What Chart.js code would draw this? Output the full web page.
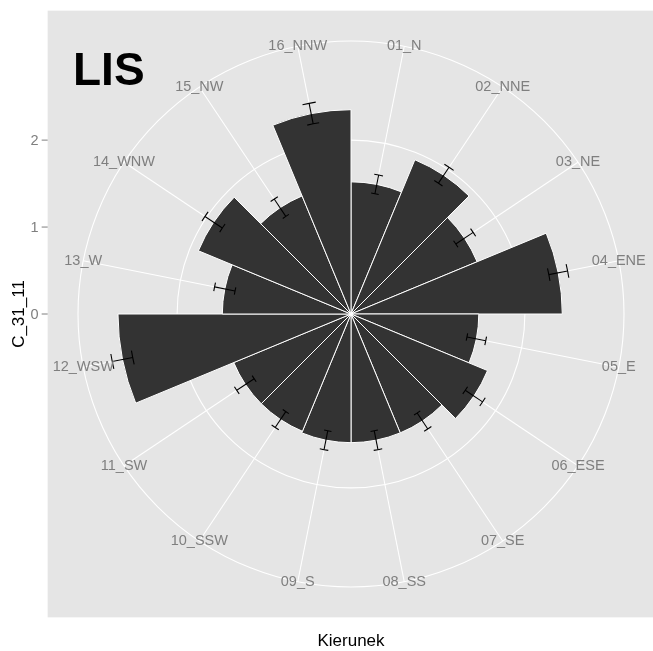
<!DOCTYPE html>
<html>
<head>
<meta charset="utf-8">
<script src="https://cdn.jsdelivr.net/npm/chart.js@4.4.1/dist/chart.umd.min.js"></script>
<style>
html, body { margin: 0; padding: 0; background: #fff; }
canvas { display: block; }
</style>
</head>
<body>
<canvas id="rose" width="653" height="651"></canvas>
<script>
// directions (categories), mean values and error half-widths
const kierunki = ['01_N', '02_NNE', '03_NE', '04_ENE', '05_E', '06_ESE', '07_SE', '08_SS',
                  '09_S', '10_SSW', '11_SW', '12_WSW', '13_W', '14_WNW', '15_NW', '16_NNW'];
const srednie = [1.52, 1.92, 1.57, 2.43, 1.47, 1.70, 1.48, 1.48,
                 1.48, 1.46, 1.46, 2.68, 1.48, 1.90, 1.47, 2.35];
const bledy = [0.11, 0.11, 0.12, 0.11, 0.11, 0.12, 0.11, 0.11,
               0.11, 0.11, 0.12, 0.12, 0.12, 0.12, 0.12, 0.12];
const yTicks = [0, 1, 2];
const rMax = 3.14;
const napis = 'LIS';
const xTitle = 'Kierunek';
const yTitle = 'C_31_11';

const FONT = '"Liberation Sans", Arial, sans-serif';
const PANEL = '#e5e5e5';
const BAR = '#333333';
const TEXT_GREY = '#7f7f7f';

// ggplot-like panel, spokes, error bars, labels
const polarExtras = {
    id: 'polarExtras',
    beforeDraw(chart) {
        const s = chart.scales.r;
        const ctx = chart.ctx;
        const half = s.drawingArea * 0.5 / 0.45;
        ctx.save();
        ctx.fillStyle = PANEL;
        ctx.fillRect(s.xCenter - half, s.yCenter - half, half * 2, half * 2);
        ctx.restore();
    },
    beforeDatasetsDraw(chart) {
        const s = chart.scales.r;
        const ctx = chart.ctx;
        ctx.save();
        ctx.strokeStyle = '#ffffff';
        ctx.lineWidth = 1.1;
        kierunki.forEach((k, i) => {
            const p = s.getPointPosition(i + 0.5, s.drawingArea);
            ctx.beginPath();
            ctx.moveTo(s.xCenter, s.yCenter);
            ctx.lineTo(p.x, p.y);
            ctx.stroke();
        });
        ctx.restore();
    },
    afterDatasetsDraw(chart) {
        const s = chart.scales.r;
        const ctx = chart.ctx;
        const capHalf = 1.8 * Math.PI / 180;
        ctx.save();
        ctx.strokeStyle = '#000000';
        ctx.lineWidth = 1.1;
        srednie.forEach((v, i) => {
            const a = s.getIndexAngle(i + 0.5) - Math.PI / 2;
            const lo = s.getDistanceFromCenterForValue(v - bledy[i]);
            const hi = s.getDistanceFromCenterForValue(v + bledy[i]);
            ctx.beginPath();
            ctx.moveTo(s.xCenter + Math.cos(a) * lo, s.yCenter + Math.sin(a) * lo);
            ctx.lineTo(s.xCenter + Math.cos(a) * hi, s.yCenter + Math.sin(a) * hi);
            ctx.stroke();
            [lo, hi].forEach(d => {
                ctx.beginPath();
                ctx.arc(s.xCenter, s.yCenter, d, a - capHalf, a + capHalf);
                ctx.stroke();
            });
        });
        ctx.restore();
    },
    afterDraw(chart) {
        const s = chart.scales.r;
        const ctx = chart.ctx;
        const half = s.drawingArea * 0.5 / 0.45;
        const panelLeft = s.xCenter - half;
        ctx.save();

        // direction labels on the outer circle
        ctx.fillStyle = TEXT_GREY;
        ctx.font = '14.5px ' + FONT;
        ctx.textAlign = 'center';
        ctx.textBaseline = 'middle';
        kierunki.forEach((k, i) => {
            const p = s.getPointPosition(i + 0.5, s.drawingArea);
            ctx.fillText(k, p.x, p.y);
        });

        // left axis (radius)
        ctx.strokeStyle = TEXT_GREY;
        ctx.lineWidth = 1;
        ctx.textAlign = 'right';
        yTicks.forEach(t => {
            const y = s.yCenter - s.getDistanceFromCenterForValue(t);
            ctx.beginPath();
            ctx.moveTo(panelLeft - 6, y);
            ctx.lineTo(panelLeft, y);
            ctx.stroke();
            ctx.fillText(String(t), panelLeft - 9, y + 1);
        });

        // axis titles
        ctx.fillStyle = '#000000';
        ctx.font = '17px ' + FONT;
        ctx.textAlign = 'center';
        ctx.fillText(xTitle, s.xCenter, s.yCenter + half + 24);
        ctx.translate(19, s.yCenter);
        ctx.rotate(-Math.PI / 2);
        ctx.fillText(yTitle, 0, 0);
        ctx.setTransform(1, 0, 0, 1, 0, 0);

        // annotation
        ctx.font = 'bold 46px ' + FONT;
        ctx.textAlign = 'left';
        ctx.textBaseline = 'alphabetic';
        ctx.fillText(napis, 73, 85);
        ctx.restore();
    }
};

new Chart(document.getElementById('rose'), {
    type: 'polarArea',
    data: {
        labels: kierunki,
        datasets: [{
            data: srednie,
            backgroundColor: BAR,
            borderColor: '#ffffff',
            borderWidth: 1
        }]
    },
    options: {
        responsive: false,
        animation: false,
        events: [],
        layout: { padding: { left: 78, right: 29, top: 41, bottom: 64 } },
        plugins: {
            legend: { display: false },
            tooltip: { enabled: false }
        },
        scales: {
            r: {
                min: 0,
                max: rMax,
                startAngle: 0,
                afterBuildTicks: s => {
                    s.ticks = [0, 1, 2, rMax].map(v => ({ value: v }));
                },
                ticks: { display: false },
                grid: { circular: true, color: '#ffffff', lineWidth: 1.1 },
                angleLines: { display: false },
                pointLabels: { display: false }
            }
        }
    },
    plugins: [polarExtras]
});
</script>
</body>
</html>
